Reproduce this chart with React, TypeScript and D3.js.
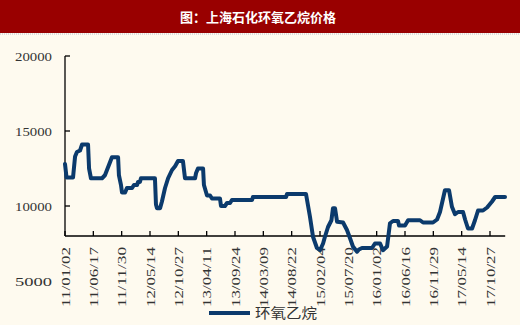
import React from "react";
import * as d3 from "d3";

const title = "图：上海石化环氧乙烷价格";
const seriesName = "环氧乙烷";

const dates = [
  "2011-01-02","2011-01-11","2011-02-18","2011-03-02","2011-03-13","2011-03-31","2011-04-12","2011-05-17","2011-05-23","2011-06-03",
  "2011-08-07","2011-08-24","2011-09-05","2011-09-17","2011-10-04","2011-11-09","2011-11-14","2011-11-26","2011-12-02","2011-12-20",
  "2011-12-31","2012-01-30","2012-02-10","2012-02-28","2012-03-05","2012-03-16","2012-03-22","2012-06-12","2012-06-18","2012-06-24",
  "2012-07-12","2012-07-23","2012-08-10","2012-08-28","2012-09-20","2012-10-08","2012-10-25","2012-11-23","2012-12-05","2013-02-02",
  "2013-02-08","2013-02-19","2013-03-21","2013-03-26","2013-04-13","2013-05-01","2013-05-12","2013-06-28","2013-07-04","2013-07-27",
  "2013-08-08","2013-08-26","2013-09-06","2014-01-02","2014-01-07","2014-07-20","2014-07-26","2014-11-14","2014-12-07","2014-12-25",
  "2015-01-17","2015-02-04","2015-02-22","2015-03-05","2015-03-23","2015-04-12","2015-04-21","2015-05-03","2015-05-15","2015-06-19",
  "2015-07-12","2015-07-30","2015-08-16","2015-09-09","2015-09-20","2015-10-08","2015-12-06","2015-12-23","2016-01-22","2016-02-08",
  "2016-03-03","2016-03-20","2016-04-07","2016-05-06","2016-05-12","2016-06-16","2016-07-04","2016-09-12","2016-09-30","2016-11-27",
  "2016-12-21","2017-01-07","2017-02-05","2017-03-01","2017-03-18","2017-04-05","2017-04-23","2017-05-22","2017-06-03","2017-06-20",
  "2017-07-14","2017-07-31","2017-08-18","2017-09-16","2017-10-10","2017-11-08","2017-11-26","2018-01-23"
];

const prices = [
  12800,11900,11900,13300,13600,13700,14100,14100,12500,11850,
  11850,12050,12400,12750,13250,13250,12050,11400,10900,10900,
  11200,11200,11400,11400,11600,11600,11850,11850,10100,9850,
  9850,10300,11200,11850,12400,12650,13000,13000,11850,11850,
  12200,12500,12500,11400,10700,10700,10500,10500,10000,10000,
  10200,10200,10400,10400,10600,10600,10800,10800,9300,7950,
  7200,7050,7500,7950,8600,9050,9850,9850,8950,8900,
  8400,7850,7300,6950,7100,7200,7200,7500,7500,7050,
  7300,8850,9000,9000,8700,8700,9050,9050,8900,8900,
  9100,9600,11050,11050,9950,9450,9600,9600,9100,8500,
  8500,9050,9700,9700,9900,10300,10600,10600
];

const tickLabels = [
  "11/01/02","11/06/17","11/11/30","12/05/14","12/10/27","13/04/11","13/09/24","14/03/09",
  "14/08/22","15/02/04","15/07/20","16/01/02","16/06/16","16/11/29","17/05/14","17/10/27"
];

const yTickValues = [20000, 15000, 10000, 5000];
const axisCross = 8000;

const W = 520;
const H = 325;
const serif = "'Liberation Serif', 'Times New Roman', serif";
const cjk = "'Noto Sans CJK SC', sans-serif";

export default function App() {
  const parse = d3.timeParse("%Y-%m-%d");
  const parseTick = (s: string) => parse("20" + s.replace(/\//g, "-"))!;
  const tickDates = tickLabels.map(parseTick);

  const x = d3
    .scaleTime()
    .domain([tickDates[0], tickDates[tickDates.length - 1]])
    .range([65, 490]);
  const y = d3.scaleLinear().domain([5000, 20000]).range([281, 56]);

  const data = dates.map((d, i) => ({ date: parse(d)!, value: prices[i] }));
  const line = d3
    .line<{ date: Date; value: number }>()
    .x((d) => x(d.date))
    .y((d) => y(d.value));

  const axisY = y(axisCross);
  const x0 = x(tickDates[0]);
  const xEnd = x(parse("2018-01-24")!);
  const navy = "#0b3a6c";

  return (
    <svg
      width={W}
      height={H}
      style={{ position: "fixed", left: 0, top: 0, background: "#fefaef" }}
    >
      <rect x={0} y={0} width={W} height={H} fill="#fefaef" />
      <rect x={0} y={0} width={W} height={33} fill="#990000" />
      <line x1={0} x2={W} y1={34} y2={34} stroke="#b9bccb" strokeWidth={1} strokeDasharray="1,1" />
      <text
        x={258}
        y={22}
        textAnchor="middle"
        fill="#ffffff"
        fontFamily={cjk}
        fontWeight="bold"
        fontSize={13}
      >
        {title}
      </text>

      {/* y axis */}
      <line x1={x0} x2={x0} y1={y(20000)} y2={axisY} stroke="#000" strokeWidth={1.3} />
      {yTickValues.map((v) => (
        <g key={v}>
          {v >= axisCross && (
            <line x1={x0} x2={x0 + 5} y1={y(v)} y2={y(v)} stroke="#000" strokeWidth={1.3} />
          )}
          <text
            x={52}
            y={y(v)}
            dy="0.35em"
            textAnchor="end"
            fontFamily={serif}
            fontSize={13}
            fill="#333"
            textLength={37}
            lengthAdjust="spacingAndGlyphs"
          >
            {v}
          </text>
        </g>
      ))}

      {/* x axis */}
      <line x1={x0} x2={xEnd} y1={axisY} y2={axisY} stroke="#000" strokeWidth={1.3} />
      {tickDates.map((d, i) => (
        <g key={tickLabels[i]}>
          <line x1={x(d)} x2={x(d)} y1={axisY} y2={axisY - 5} stroke="#000" strokeWidth={1.3} />
          <text
            transform={`translate(${x(d)},${axisY + 11}) rotate(-90)`}
            textAnchor="end"
            dy="0.35em"
            fontFamily={serif}
            fontSize={13}
            fill="#333"
            textLength={60}
            lengthAdjust="spacingAndGlyphs"
          >
            {tickLabels[i]}
          </text>
        </g>
      ))}

      <path
        d={line(data) ?? ""}
        fill="none"
        stroke={navy}
        strokeWidth={4}
        strokeLinejoin="round"
        strokeLinecap="round"
      />

      {/* legend */}
      <line x1={209} x2={250} y1={313} y2={313} stroke={navy} strokeWidth={4} />
      <text
        x={255}
        y={313}
        dy="0.35em"
        fontFamily={cjk}
        fontSize={14}
        fill="#333"
        textLength={62}
        lengthAdjust="spacingAndGlyphs"
      >
        {seriesName}
      </text>
    </svg>
  );
}
